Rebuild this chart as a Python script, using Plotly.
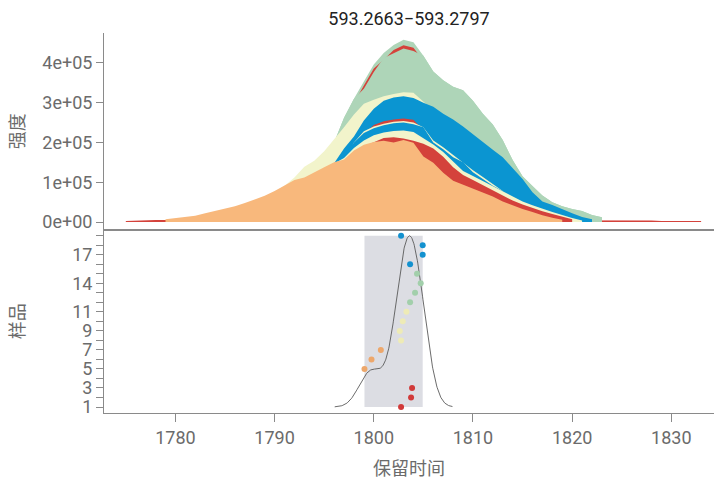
import numpy as np
import plotly.graph_objects as go

# ---- chromatogram traces (intensity in thousands, one value per second of RT) ----
# each layer: first retention time + intensities; drawn back to front
red_base_start = 1775
red_base = [3, 4, 4, 5, 5, 5, 5, 5, 5, 5, 5, 5, 5, 5, 5, 5, 5, 5, 5, 5,
            5, 5, 5, 5, 5, 5, 5, 5, 5, 5, 5, 5, 5, 5, 5, 5, 5, 5, 5, 5,
            5, 5, 5, 5, 5, 5, 5, 5, 5, 5, 4, 4, 4, 4, 3, 3, 3, 3, 3]

green_outer_start = 1790
green_outer = [65, 80, 95, 105, 120, 150, 200, 262, 310, 353, 396, 425, 445, 458, 452,
               418, 378, 356, 340, 331, 305, 272, 245, 206, 156, 115, 90, 67, 50, 40,
               33, 28, 18, 12]

red_thin_start = 1797
red_thin = [250, 300, 343, 386, 408, 432, 444, 438, 405]

green_inner_start = 1790
green_inner = [65, 80, 95, 105, 120, 150, 200, 262, 310, 335, 377, 412, 425, 436, 430,
               418, 378, 356, 340, 331, 305, 272, 245, 206, 156, 115, 90, 67, 50, 40,
               33, 28, 18, 12]

yellow_big_start = 1790
yellow_big = [70, 92, 112, 139, 154, 178, 207, 238, 270, 297, 307, 316, 322, 326, 325,
              302, 280]

blue_outer_start = 1788
blue_outer = [50, 60, 70, 85, 100, 108, 120, 135, 148, 185, 215, 255, 285, 305, 313,
              316, 312, 300, 290, 272, 258, 240, 220, 200, 182, 163, 135, 108, 75, 52,
              43, 32, 22, 13, 7]

red_streak_start = 1799
red_streak = [220, 244, 253, 258, 260, 257, 230]

yellow_streak_start = 1797
yellow_streak = [150, 200, 228, 240, 247, 252, 254, 250, 238, 205, 188, 168, 150, 130,
                 113, 96, 78]

blue_inner_start = 1795
blue_inner = [125, 145, 165, 200, 224, 236, 243, 248, 250, 246, 238, 200, 183, 163,
              150, 125, 108, 91, 78, 66, 55, 45, 36, 28, 22, 15, 10, 6]

yellow_low_start = 1790
yellow_low = [70, 85, 100, 105, 118, 130, 147, 161, 186, 205, 218, 225, 229, 230, 226,
              210, 195, 176, 153, 128, 116, 103, 89, 76, 63, 52, 42, 33, 25, 18, 10, 4]

red_front_start = 1785
red_front = [30, 37, 45, 54, 63, 74, 88, 100, 108, 120, 133, 145, 152, 175, 190, 200,
             211, 213, 210, 204, 197, 185, 164, 138, 118, 106, 93, 80, 66, 54, 44, 35,
             27, 20, 14, 7]

orange_start = 1779
orange = [7, 10, 13, 16, 22, 28, 33, 40, 48, 57, 66, 78, 93, 106, 112, 126, 138, 150,
          157, 180, 194, 201, 204, 200, 206, 199, 165, 149, 124, 104, 94, 85, 75, 64,
          52, 42, 33, 25, 17, 11, 6]

# ---- apex retention time per sample ----
sample_ids = [1, 2, 3, 5, 6, 7, 8, 9, 10, 11, 12, 13, 14, 15, 16, 17, 18, 19]
sample_rt = [1802.75, 1803.76, 1803.86, 1799.06, 1799.77, 1800.71, 1802.75, 1802.62,
             1802.92, 1803.29, 1803.66, 1804.16, 1804.73, 1804.36, 1803.66, 1804.93,
             1804.93, 1802.75]
sample_group = ["r", "r", "r", "o", "o", "o", "y", "y", "y", "y", "g", "g", "g", "g",
                "b", "b", "b", "b"]

ytick_vals = list(range(1, 20))
ytick_labels = {1: "1", 3: "3", 5: "5", 7: "7", 9: "9", 11: "11", 14: "14", 17: "17"}
xtick_vals = [1780, 1790, 1800, 1810, 1820, 1830]
intensity_ticks = [0, 100000, 200000, 300000, 400000]
intensity_labels = ["0e+00", "1e+05", "2e+05", "3e+05", "4e+05"]

AREA = {"r": "#D4423B", "o": "#F8B87C", "y": "#F2F4CB", "g": "#AED5B8", "b": "#0B95D1"}
DOT = {"r": "#D13A3A", "o": "#EDA76B", "y": "#EEEBB6", "g": "#A2CFAB", "b": "#1391CF"}

layers = [
    (red_base_start, red_base, "r"),
    (green_outer_start, green_outer, "g"),
    (red_thin_start, red_thin, "r"),
    (green_inner_start, green_inner, "g"),
    (yellow_big_start, yellow_big, "y"),
    (blue_outer_start, blue_outer, "b"),
    (red_streak_start, red_streak, "r"),
    (yellow_streak_start, yellow_streak, "y"),
    (blue_inner_start, blue_inner, "b"),
    (yellow_low_start, yellow_low, "y"),
    (red_front_start, red_front, "r"),
    (orange_start, orange, "o"),
]

fig = go.Figure()

for start, vals, grp in layers:
    xs = [start + i for i in range(len(vals))]
    ys = [v * 1000 for v in vals]
    fig.add_trace(go.Scatter(
        x=xs, y=ys, mode="lines", fill="tozeroy",
        fillcolor=AREA[grp], line=dict(width=0, color=AREA[grp]),
        hoverinfo="skip", showlegend=False, xaxis="x", yaxis="y"))

# ---- lower panel: apex range box, density of apex times, sample points ----
rt_arr = np.array(sample_rt)
bw = 1.0
grid = np.linspace(rt_arr.min() - 3 * bw, rt_arr.max() + 3 * bw, 300)
dens = np.exp(-0.5 * ((grid[:, None] - rt_arr[None, :]) / bw) ** 2).sum(axis=1)
lo, hi = min(sample_ids), max(sample_ids)
dens_y = lo + (hi - lo) * dens / dens.max()

fig.add_shape(type="rect", xref="x2", yref="y2",
              x0=rt_arr.min(), x1=rt_arr.max(), y0=lo, y1=hi,
              fillcolor="#DCDDE3", line=dict(width=0), layer="below")

fig.add_trace(go.Scatter(x=grid, y=dens_y, mode="lines",
                         line=dict(color="#5a5a5a", width=0.9),
                         hoverinfo="skip", showlegend=False, xaxis="x2", yaxis="y2"))

fig.add_trace(go.Scatter(x=sample_rt, y=sample_ids, mode="markers",
                         marker=dict(size=6, color=[DOT[g] for g in sample_group]),
                         hoverinfo="skip", showlegend=False, xaxis="x2", yaxis="y2"))

GREY = "#6b6b6b"
LINE = "#8a8a8a"
FONT = "Roboto"
CJK = "Noto Sans CJK SC"
TICK = 18
x_range = [1772.8, 1834.3]
split = 0.484

fig.update_layout(
    width=720, height=479,
    margin=dict(l=104, r=6, t=33, b=66),
    paper_bgcolor="white", plot_bgcolor="white",
    font=dict(family=FONT, color=GREY, size=TICK),
    title=dict(text="593.2663\u2212593.2797", x=0.5, xref="paper", xanchor="center",
               y=0.962, yref="container", yanchor="middle",
               font=dict(family=FONT, size=18, color="#222222")),
    xaxis=dict(domain=[0, 1], anchor="y", range=x_range, matches="x2",
               showticklabels=False, ticks="", showline=True, linecolor=LINE,
               linewidth=2, showgrid=False, zeroline=False),
    yaxis=dict(domain=[split, 1], anchor="x", range=[-17600, 475000],
               tickvals=intensity_ticks, ticktext=intensity_labels,
               ticks="outside", ticklen=7, tickcolor=LINE, tickwidth=1,
               showline=True, linecolor=LINE, linewidth=1,
               showgrid=False, zeroline=False, tickfont=dict(size=TICK, color=GREY)),
    xaxis2=dict(domain=[0, 1], anchor="y2", range=x_range,
                tickvals=xtick_vals, ticks="outside", ticklen=8, tickcolor=LINE,
                showline=True, linecolor=LINE, linewidth=1, showgrid=False,
                zeroline=False, tickfont=dict(size=TICK, color=GREY)),
    yaxis2=dict(domain=[0, split], anchor="x2", range=[0.37, 19.7],
                tickvals=ytick_vals,
                ticktext=[ytick_labels.get(v, "") for v in ytick_vals],
                ticks="outside", ticklen=7, tickcolor=LINE, tickwidth=1,
                showline=True, linecolor=LINE, linewidth=1,
                showgrid=False, zeroline=False, tickfont=dict(size=TICK, color=GREY)),
    annotations=[
        dict(text="强度", xref="paper", yref="paper", x=-0.144, y=0.742,
             textangle=-90, showarrow=False, xanchor="center", yanchor="middle",
             font=dict(family=CJK, size=18, color=GREY)),
        dict(text="样品", xref="paper", yref="paper", x=-0.144, y=0.242,
             textangle=-90, showarrow=False, xanchor="center", yanchor="middle",
             font=dict(family=CJK, size=18, color=GREY)),
        dict(text="保留时间", xref="paper", yref="paper", x=0.5, y=-0.142,
             showarrow=False, xanchor="center", yanchor="middle",
             font=dict(family=CJK, size=18, color=GREY)),
    ],
)

fig.write_html("out.html")
